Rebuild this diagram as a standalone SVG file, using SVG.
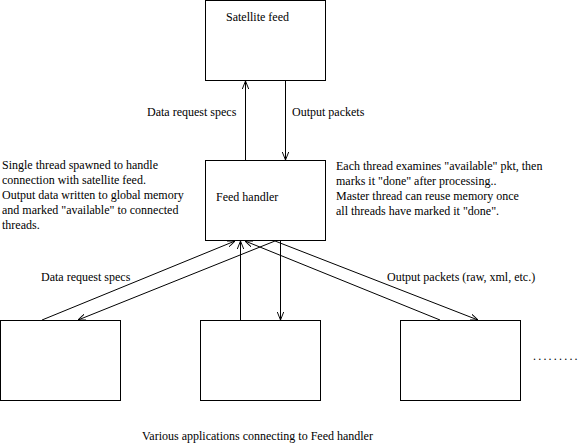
<svg xmlns="http://www.w3.org/2000/svg" width="580" height="444" viewBox="0 0 580 444">
<style>
  .box { fill: #fff; stroke: #000; stroke-width: 1; }
  .t { font-family: "Liberation Serif", "Times New Roman", serif; font-size: 12px; fill: #000; }
  .c { fill: none; stroke: #000; stroke-width: 1; }
</style>
<defs>
  <marker id="arr" viewBox="0 0 10 8" refX="10" refY="4" markerWidth="8" markerHeight="6.4" markerUnits="userSpaceOnUse" orient="auto">
    <path d="M0,0 L10,4 L0,8" fill="none" stroke="#000" stroke-width="1.2"/>
  </marker>
</defs>
<rect width="580" height="444" fill="#fff"/>

<g id="satellite">
  <rect class="box" x="205.5" y="0.5" width="120" height="80"/>
  <text class="t" x="226" y="21">Satellite feed</text>
</g>

<g id="feed-handler">
  <rect class="box" x="205.5" y="160.5" width="120" height="80"/>
  <text class="t" x="216" y="201">Feed handler</text>
</g>

<g id="app1">
  <rect class="box" x="0.5" y="320.5" width="120" height="80"/>
</g>
<g id="app2">
  <rect class="box" x="200.5" y="320.5" width="120" height="80"/>
</g>
<g id="app3">
  <rect class="box" x="400.5" y="320.5" width="120" height="80"/>
</g>

<g id="connectors">
  <line class="c" x1="245.5" y1="160" x2="245.5" y2="81" marker-end="url(#arr)"/>
  <line class="c" x1="285.5" y1="81" x2="285.5" y2="160" marker-end="url(#arr)"/>
  <line class="c" x1="42" y1="320" x2="235" y2="241" marker-end="url(#arr)"/>
  <line class="c" x1="275" y1="241" x2="78" y2="320" marker-end="url(#arr)"/>
  <line class="c" x1="240.5" y1="320" x2="240.5" y2="241" marker-end="url(#arr)"/>
  <line class="c" x1="280.5" y1="241" x2="280.5" y2="320" marker-end="url(#arr)"/>
  <line class="c" x1="440" y1="320" x2="245" y2="241" marker-end="url(#arr)"/>
  <line class="c" x1="275" y1="241" x2="478" y2="320" marker-end="url(#arr)"/>
</g>

<g id="labels">
  <text class="t" x="147" y="116">Data request specs</text>
  <text class="t" x="292" y="116">Output packets</text>
  <text class="t" x="41" y="281">Data request specs</text>
  <text class="t" x="387" y="281">Output packets (raw, xml, etc.)</text>
  <text class="t" x="2" y="169">Single thread spawned to handle</text>
  <text class="t" x="2" y="184">connection with satellite feed.</text>
  <text class="t" x="2" y="199">Output data written to global memory</text>
  <text class="t" x="2" y="214">and marked "available" to connected</text>
  <text class="t" x="2" y="229">threads.</text>
  <text class="t" x="336" y="170">Each thread examines "available" pkt, then</text>
  <text class="t" x="336" y="185">marks it "done" after processing..</text>
  <text class="t" x="336" y="200">Master thread can reuse memory once</text>
  <text class="t" x="336" y="215">all threads have marked it "done".</text>
  <text class="t" x="533" y="360" letter-spacing="2.2">.........</text>
  <text class="t" x="142" y="440">Various applications connecting to Feed handler</text>
</g>
</svg>
